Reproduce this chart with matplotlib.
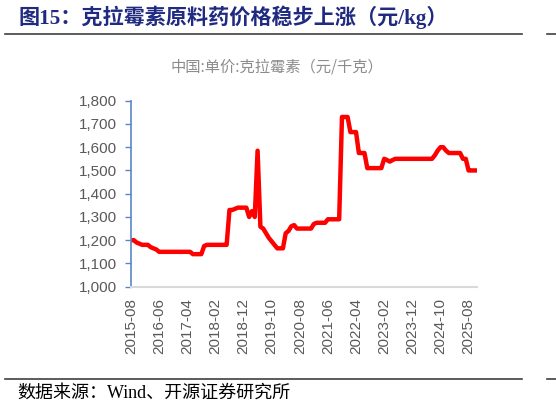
import matplotlib
matplotlib.use("Agg")
import matplotlib.pyplot as plt
from matplotlib.lines import Line2D
import pandas as pd

# ---- data (monthly, 2015-08 .. 2025-11) ----
start_month = "2015-08"
values_2015 = [1200, 1200, 1190, 1185, 1180]                                   # 08-12
values_2016 = [1180, 1180, 1170, 1165, 1160, 1150, 1150, 1150, 1150, 1150, 1150, 1150]
values_2017 = [1150, 1150, 1150, 1150, 1150, 1140, 1140, 1140, 1140, 1175, 1180, 1180]
values_2018 = [1180, 1180, 1180, 1180, 1180, 1180, 1330, 1330, 1335, 1340, 1340, 1340]
values_2019 = [1340, 1300, 1325, 1300, 1585, 1258, 1250, 1230, 1210, 1195, 1180, 1165]
values_2020 = [1165, 1165, 1230, 1240, 1260, 1265, 1250, 1250, 1250, 1250, 1250, 1250]
values_2021 = [1270, 1275, 1275, 1275, 1275, 1290, 1290, 1290, 1290, 1290, 1730, 1730]
values_2022 = [1730, 1665, 1665, 1665, 1575, 1575, 1575, 1510, 1510, 1510, 1510, 1510]
values_2023 = [1510, 1550, 1545, 1538, 1545, 1550, 1550, 1550, 1550, 1550, 1550, 1550]
values_2024 = [1550, 1550, 1550, 1550, 1550, 1550, 1550, 1565, 1585, 1600, 1600, 1585]
values_2025 = [1575, 1575, 1575, 1575, 1575, 1550, 1550, 1500, 1500, 1500, 1500]  # 01-11

prices = (values_2015 + values_2016 + values_2017 + values_2018 + values_2019 +
          values_2020 + values_2021 + values_2022 + values_2023 + values_2024 + values_2025)
months = pd.date_range(start_month, periods=len(prices), freq="MS").strftime("%Y-%m").tolist()

title = "图15：克拉霉素原料药价格稳步上涨（元/kg）"
subtitle = "中国:单价:克拉霉素（元/千克）"
source = "数据来源：Wind、开源证券研究所"
y_ticks = [1000, 1100, 1200, 1300, 1400, 1500, 1600, 1700, 1800]
label_step = 10

# ---- figure ----
W, H = 556, 408
fig = plt.figure(figsize=(W / 100, H / 100), dpi=100)
ax = fig.add_axes([131 / W, 1 - 286.7 / H, (477 - 131) / W, (286.7 - 100.7) / H])

x = list(range(len(prices)))
ax.plot(x, prices, color="#FF0000", lw=3.2, solid_joinstyle="round", solid_capstyle="butt")

ax.set_xlim(0, len(prices) - 1)
ax.set_ylim(1000, 1800)
ax.set_yticks(y_ticks)
ax.set_yticklabels([f"{v:,}" for v in y_ticks], fontfamily="Liberation Sans",
                   fontsize=11, color="#595959")
xt = list(range(0, len(prices), label_step))
ax.set_xticks(xt)
ax.set_xticklabels([months[i] for i in xt], rotation=90, fontfamily="Liberation Sans",
                   fontsize=11, color="#595959")

for s in ["top", "right"]:
    ax.spines[s].set_visible(False)
ax.spines["left"].set_color("#5B85C6")
ax.spines["left"].set_linewidth(1.2)
ax.spines["bottom"].set_color("#D9D9D9")
ax.spines["bottom"].set_linewidth(1.5)
ax.tick_params(axis="y", direction="out", length=4, width=1.0, color="#5B85C6", pad=6)
ax.tick_params(axis="x", length=0, pad=8)

cjk_serif = ["Liberation Serif", "Noto Sans CJK SC"]
fig.text(18 / W, 1 - 17 / H, title, fontfamily=cjk_serif, fontweight="bold",
         fontsize=15.2, color="#1F2A80", ha="left", va="center")
fig.text(277 / W, 1 - 67 / H, subtitle, fontfamily=["Noto Sans CJK SC", "DejaVu Sans"],
         fontsize=11, color="#8C8C8C", ha="center", va="center")
fig.text(17 / W, 1 - 393 / H, source, fontfamily=cjk_serif, fontsize=13,
         color="#000000", ha="left", va="center")

for (x0, x1, yy) in [(5, 522, 33.5), (547, 556, 33.5), (5, 522, 379), (547, 556, 379)]:
    fig.add_artist(Line2D([x0 / W, x1 / W], [1 - yy / H, 1 - yy / H],
                          color="#404040", lw=1.2))

fig.savefig("out.png", dpi=100)
